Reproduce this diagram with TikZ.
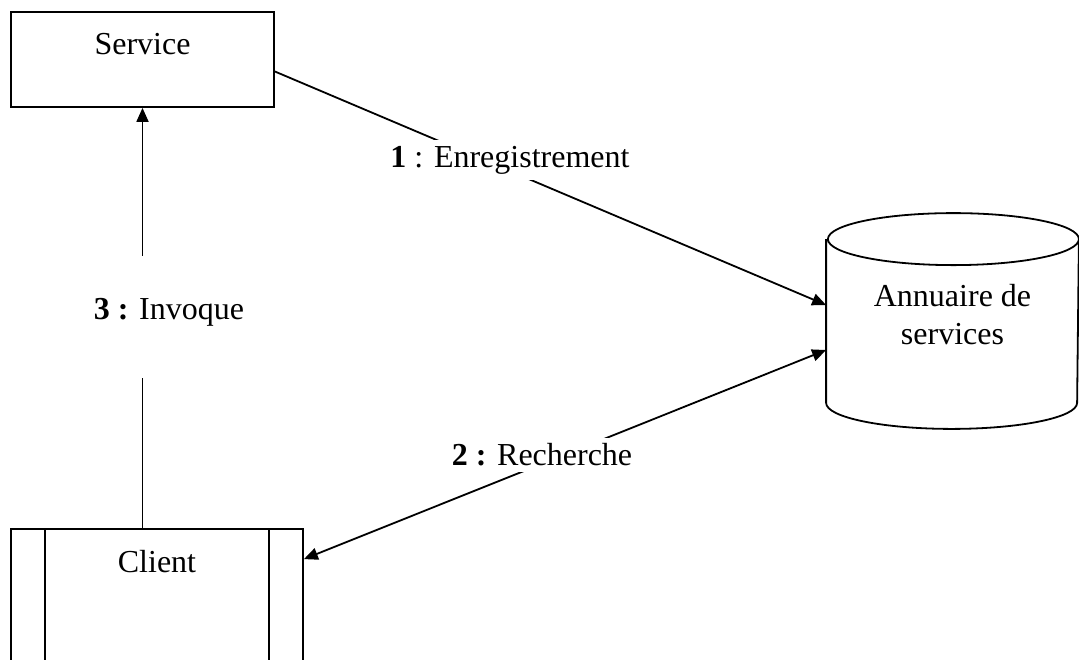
\documentclass[tikz,border=0pt]{standalone}
\usepackage{fontspec}
\setmainfont{Liberation Serif}
\usetikzlibrary{arrows.meta, positioning}

\begin{document}
\begin{tikzpicture}[x=0.5pt, y=-0.5pt, line width=0.9pt,
  font=\fontsize{16}{19}\selectfont,
  box/.style={draw, inner sep=0pt},
  title/.style={anchor=north, yshift=-7.5pt},
  lbl/.style={fill=white, inner sep=3pt},
  tip/.style={-{Triangle[length=7pt,width=6pt]}}]
\useasboundingbox (0,0) rectangle (1079,659);

% Service, client and directory
\node[box, minimum width=131.5pt, minimum height=47.5pt, label={[title]north:Service}] (service) at (142.5,59.5) {};
\node[box, minimum width=146pt, minimum height=85.5pt, label={[title]north:Client}] (client) at (157,614.5) {};
\draw ([xshift=17.5pt]client.north west) -- ([xshift=17.5pt]client.south west);
\draw ([xshift=-17.5pt]client.north east) -- ([xshift=-17.5pt]client.south east);
\node[inner sep=0pt, minimum width=125.5pt, minimum height=107pt,
  label={[align=center, yshift=3pt]center:Annuaire de\\services}] (annuaire) at (952.5,321) {};
% cylinder outline
\draw ([yshift=-13pt]annuaire.north west) -- ([yshift=13pt]annuaire.south west)
  arc[start angle=180, end angle=360, x radius=62.75pt, y radius=13pt]
  -- ([yshift=-13pt]annuaire.north east)
  arc[start angle=0, end angle=180, x radius=62.75pt, y radius=13pt]
  arc[start angle=180, end angle=360, x radius=62.75pt, y radius=13pt];

% 1 : registration
\draw[tip] ([yshift=-6pt]service.east) -- ([yshift=8pt]annuaire.west);
\node[lbl] (lab1) at (510,160) {\textbf{1} : Enregistrement};

% 2 : lookup
\draw[{Triangle[length=7pt,width=6pt]}-{Triangle[length=7pt,width=6pt]}] ([yshift=-15.5pt]client.north east) -- ([yshift=-14.5pt]annuaire.west);
\node[lbl] (lab2) at (542,455) {\textbf{2 :} Recherche};

% 3 : invocation
\draw[tip] (client.north -| service.south) -- (service.south);
\node[lbl, text height=28.5pt, text depth=26.5pt] (lab3) at (169,317) {\textbf{3 :} Invoque};
\end{tikzpicture}
\end{document}
